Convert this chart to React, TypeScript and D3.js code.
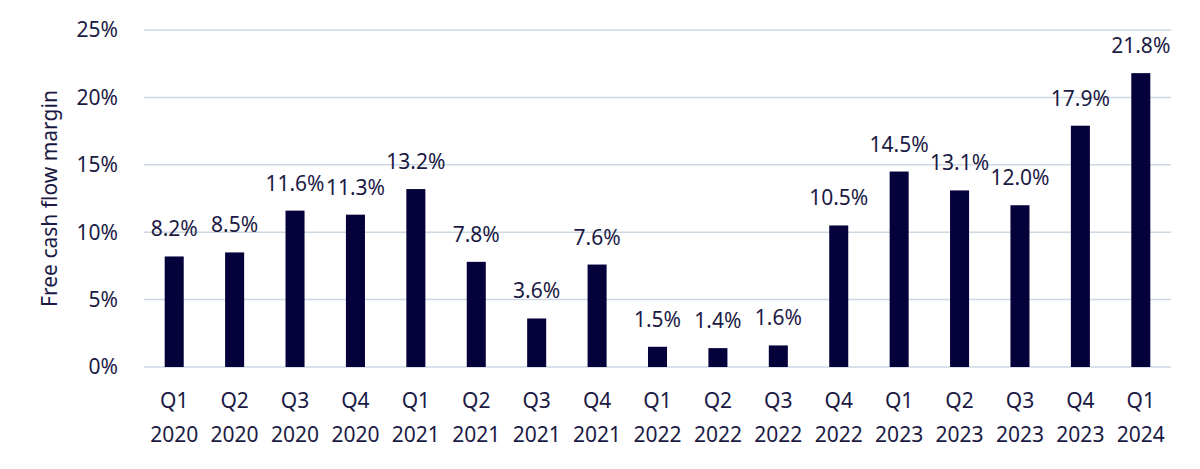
import React, { useEffect, useRef } from "react";
import * as d3 from "d3";

const quarters = ["Q1", "Q2", "Q3", "Q4", "Q1", "Q2", "Q3", "Q4", "Q1", "Q2", "Q3", "Q4", "Q1", "Q2", "Q3", "Q4", "Q1"];
const years = ["2020", "2020", "2020", "2020", "2021", "2021", "2021", "2021", "2022", "2022", "2022", "2022", "2023", "2023", "2023", "2023", "2024"];
const margins = [8.2, 8.5, 11.6, 11.3, 13.2, 7.8, 3.6, 7.6, 1.5, 1.4, 1.6, 10.5, 14.5, 13.1, 12.0, 17.9, 21.8];
const yTicks = [0, 5, 10, 15, 20, 25];

const App: React.FC = () => {
  const ref = useRef<SVGSVGElement>(null);

  useEffect(() => {
    const svg = d3.select(ref.current);
    svg.selectAll("*").remove();

    const width = 1200;
    const height = 469;
    const left = 144;
    const right = 1171;
    const top = 30;
    const bottom = 367;
    const ink = "#1b1a45";
    const font = "'Noto Sans', sans-serif";
    const fs = 21;

    const keys = margins.map((_, i) => String(i));
    const x = d3.scaleBand().domain(keys).range([left, right]).paddingInner(0.685).paddingOuter(0.3425);
    const y = d3.scaleLinear().domain([0, 25]).range([bottom, top]);

    svg.attr("width", width).attr("height", height);

    // grid
    svg
      .append("g")
      .selectAll("line")
      .data(yTicks)
      .join("line")
      .attr("x1", left)
      .attr("x2", right)
      .attr("y1", (d) => y(d))
      .attr("y2", (d) => y(d))
      .attr("stroke", "#cdd8e3")
      .attr("stroke-width", 1.5);

    // y tick labels
    svg
      .append("g")
      .selectAll("text")
      .data(yTicks)
      .join("text")
      .attr("x", 118)
      .attr("y", (d) => y(d))
      .attr("dy", "0.35em")
      .attr("text-anchor", "end")
      .attr("font-family", font)
      .attr("font-size", fs)
      .attr("fill", ink)
      .text((d) => d + "%");

    // y title
    svg
      .append("text")
      .attr("transform", `translate(57,${(top + bottom) / 2}) rotate(-90)`)
      .attr("text-anchor", "middle")
      .attr("font-family", font)
      .attr("font-size", fs)
      .attr("fill", ink)
      .text("Free cash flow margin");

    // bars
    svg
      .append("g")
      .selectAll("rect")
      .data(margins)
      .join("rect")
      .attr("x", (_, i) => x(keys[i]) as number)
      .attr("y", (d) => y(d))
      .attr("width", x.bandwidth())
      .attr("height", (d) => y(0) - y(d))
      .attr("fill", "#05013a");

    // value labels
    svg
      .append("g")
      .selectAll("text")
      .data(margins)
      .join("text")
      .attr("x", (_, i) => (x(keys[i]) as number) + x.bandwidth() / 2)
      .attr("y", (d) => y(d) - 20)
      .attr("text-anchor", "middle")
      .attr("font-family", font)
      .attr("font-size", fs)
      .attr("fill", ink)
      .text((d) => d.toFixed(1) + "%");

    // x labels
    const xl = svg.append("g").attr("font-family", font).attr("font-size", fs).attr("fill", ink).attr("text-anchor", "middle");
    xl.selectAll("text.q")
      .data(quarters)
      .join("text")
      .attr("class", "q")
      .attr("x", (_, i) => (x(keys[i]) as number) + x.bandwidth() / 2)
      .attr("y", 408)
      .text((d) => d);
    xl.selectAll("text.yr")
      .data(years)
      .join("text")
      .attr("class", "yr")
      .attr("x", (_, i) => (x(keys[i]) as number) + x.bandwidth() / 2)
      .attr("y", 442)
      .text((d) => d);
  }, []);

  return <svg ref={ref} style={{ position: "absolute", left: 0, top: 0 }} />;
};

export default App;
